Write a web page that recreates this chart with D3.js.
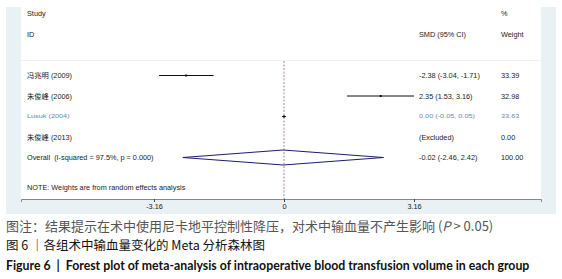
<!DOCTYPE html>
<html>
<head>
<meta charset="utf-8">
<script src="https://cdn.jsdelivr.net/npm/d3@7"></script>
<style>
body { margin: 0; background: #fff; }
svg { display: block; }
</style>
</head>
<body>
<div id="chart"></div>
<script>
const width = 562, height = 279;

// data
const studies = ["冯兆明 (2009)", "朱俊峰 (2006)", "Lusuk (2004)", "朱俊峰 (2013)"];
const smd = [-2.38, 2.35, 0.00, null];
const ciLow = [-3.04, 1.53, -0.05, null];
const ciHigh = [-1.71, 3.16, 0.05, null];
const ciText = ["-2.38 (-3.04, -1.71)", "2.35 (1.53, 3.16)", "0.00 (-0.05, 0.05)", "(Excluded)"];
const weights = ["33.39", "32.98", "33.63", "0.00"];
const overallLabel = "Overall  (I-squared = 97.5%, p = 0.000)";
const overallSmd = -0.02, overallLow = -2.46, overallHigh = 2.42;
const overallText = "-0.02 (-2.46, 2.42)";
const overallWeight = "100.00";
const tickValues = [-3.16, 0, 3.16];
const tickLabels = ["-3.16", "0", "3.16"];

const captions = [
	"图注：结果提示在术中使用尼卡地平控制性降压，对术中输血量不产生影响",
	"图 6 ｜各组术中输血量变化的 Meta 分析森林图",
	"Figure 6  |  Forest plot of meta-analysis of intraoperative blood transfusion volume in each group"
];

const svg = d3.select("#chart").append("svg")
	.attr("width", width)
	.attr("height", height);

const outer = {left: 6, right: 556, top: 7, bottom: 214};
const plot = {left: 21, right: 541, top: 7, bottom: 199};
const font = "'Liberation Sans', Arial, 'Noto Sans CJK SC', sans-serif";
const fs = 7.3;

// outer panel + white plot region
svg.append("rect")
	.attr("x", outer.left).attr("y", outer.top)
	.attr("width", outer.right - outer.left).attr("height", outer.bottom - outer.top)
	.attr("fill", "#e9f1f4");
svg.append("rect")
	.attr("x", plot.left).attr("y", plot.top)
	.attr("width", plot.right - plot.left).attr("height", plot.bottom - plot.top)
	.attr("fill", "#fff");
svg.append("line")
	.attr("x1", plot.left).attr("x2", plot.right)
	.attr("y1", 60.5).attr("y2", 60.5)
	.attr("stroke", "#eef2f4");

// scales
const x0 = d3.scaleLinear().domain([-3.16, 3.16]).range([154, 414]);
const x = x0.copy().domain([x0.invert(plot.left), x0.invert(plot.right)]).range([plot.left, plot.right]);
const rows = [...studies, "Overall"];
const y = d3.scalePoint().domain(rows).range([75.5, 157.5]);

const g = svg.append("g")
	.style("font-family", font)
	.style("font-size", fs + "px")
	.attr("fill", "#222");

// headers
g.append("text").attr("x", 27).attr("y", 13).attr("dy", "0.35em").text("Study");
g.append("text").attr("x", 27).attr("y", 34).attr("dy", "0.35em").text("ID");
g.append("text").attr("x", 419).attr("y", 34).attr("dy", "0.35em").text("SMD (95% CI)");
g.append("text").attr("x", 501).attr("y", 13).attr("dy", "0.35em").text("%");
g.append("text").attr("x", 501).attr("y", 34).attr("dy", "0.35em").text("Weight");

// null line
g.append("line")
	.attr("x1", x(0)).attr("x2", x(0))
	.attr("y1", 61).attr("y2", plot.bottom)
	.attr("stroke", "#a08a8a")
	.attr("stroke-width", 1)
	.attr("stroke-dasharray", "2,1.5");

// study rows
const squash = d => d.i === 2 ? `translate(0,${y(d.s)}) scale(1,0.72) translate(0,${-y(d.s)})` : null;
const tone = d => d.i === 2 ? "#6f86a3" : "#222";
const rowG = g.selectAll("g.row")
	.data(studies.map((s, i) => ({s, i})))
	.join("g")
	.attr("class", "row");

rowG.append("text")
	.attr("x", 27)
	.attr("y", d => y(d.s))
	.attr("dy", "0.35em")
	.attr("fill", tone)
	.attr("transform", squash)
	.text(d => d.s);

rowG.append("text")
	.attr("x", 419)
	.attr("y", d => y(d.s))
	.attr("dy", "0.35em")
	.attr("fill", tone)
	.attr("transform", squash)
	.text(d => ciText[d.i]);

rowG.append("text")
	.attr("x", 501)
	.attr("y", d => y(d.s))
	.attr("dy", "0.35em")
	.attr("fill", tone)
	.attr("transform", squash)
	.text(d => weights[d.i]);

const withCi = rowG.filter(d => smd[d.i] !== null);
withCi.append("line")
	.attr("x1", d => x(ciLow[d.i]))
	.attr("x2", d => x(ciHigh[d.i]))
	.attr("y1", d => y(d.s))
	.attr("y2", d => y(d.s))
	.attr("stroke", "#111")
	.attr("stroke-width", 1);
withCi.append("rect")
	.attr("x", d => x(smd[d.i]) - 1)
	.attr("y", d => y(d.s) - 1)
	.attr("width", 2)
	.attr("height", 2)
	.attr("fill", "#111");

// overall diamond
const yo = y("Overall");
g.append("path")
	.attr("d", d3.line()([
		[x(overallLow), yo],
		[x(overallSmd), yo - 7.5],
		[x(overallHigh), yo],
		[x(overallSmd), yo + 7.5],
		[x(overallLow), yo]
	]))
	.attr("fill", "none")
	.attr("stroke", "#1c1c6e")
	.attr("stroke-width", 1);
g.append("text").attr("x", 27).attr("y", yo).attr("dy", "0.35em")
	.style("white-space", "pre").text(overallLabel);
g.append("text").attr("x", 419).attr("y", yo).attr("dy", "0.35em").text(overallText);
g.append("text").attr("x", 501).attr("y", yo).attr("dy", "0.35em").text(overallWeight);

g.append("text").attr("x", 27).attr("y", 187).attr("dy", "0.35em")
	.text("NOTE: Weights are from random effects analysis");

// axis
const axis = d3.axisBottom(x)
	.tickValues(tickValues)
	.tickFormat((d, i) => tickLabels[i])
	.tickSizeOuter(0)
	.tickSize(3);
const ax = svg.append("g")
	.attr("transform", `translate(0,${plot.bottom})`)
	.call(axis);
ax.select(".domain").attr("stroke", "#888");
ax.selectAll(".tick line").attr("stroke", "#444");
ax.selectAll(".tick text")
	.attr("fill", "#222")
	.style("font-family", font)
	.style("font-size", fs + "px")
	.attr("y", 5);

// captions
const cap = svg.append("g").style("font-family", "'Noto Sans CJK SC', 'Noto Sans', sans-serif");
const c1 = cap.append("text")
	.attr("x", 6).attr("y", 226).attr("dy", "0.35em")
	.attr("fill", "#555")
	.style("font-size", "13px")
	.text(captions[0]);
c1.append("tspan").text(" (");
c1.append("tspan").style("font-style", "italic").text("P");
c1.append("tspan").text(" > 0.05)");

cap.append("text")
	.attr("x", 6).attr("y", 246).attr("dy", "0.35em")
	.attr("fill", "#111")
	.style("font-size", "12.5px")
	.text(captions[1]);

cap.append("text")
	.attr("x", 6).attr("y", 266).attr("dy", "0.35em")
	.attr("fill", "#111")
	.style("font-family", "Lato, 'Open Sans', sans-serif")
	.style("font-weight", "bold")
	.style("font-size", "12.3px")
	.style("white-space", "pre")
	.text(captions[2]);
</script>
</body>
</html>
